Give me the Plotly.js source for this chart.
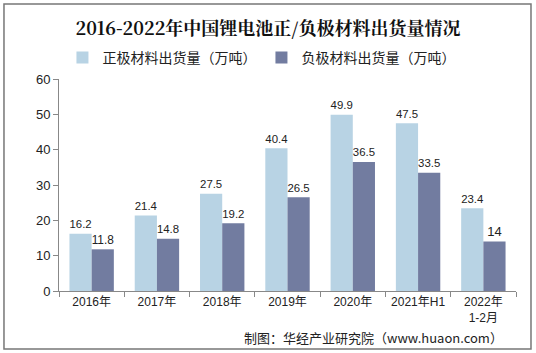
<!DOCTYPE html>
<html><head><meta charset="utf-8">
<script src="https://cdn.plot.ly/plotly-3.0.1.min.js"></script>
<style>html,body{margin:0;padding:0;background:#fff}#c{width:536px;height:353px}</style>
</head><body><div id="c"></div>
<script>
const categories = ["2016年","2017年","2018年","2019年","2020年","2021年H1","2022年<br>1-2月"];
const cathode = [16.2,21.4,27.5,40.4,49.9,47.5,23.4];
const anode = [11.8,14.8,19.2,26.5,36.5,33.5,14];
const seriesNames = ["正极材料出货量（万吨）","负极材料出货量（万吨）"];

const tf = {family:"Arial, 'Liberation Sans', 'Noto Sans CJK SC', sans-serif", size:13, color:"#222"};
const traces = [
  {type:"bar", x:categories, y:cathode, name:seriesNames[0], marker:{color:"#b8d3e4"},
   text:cathode.map(String), textposition:"outside", textfont:tf, cliponaxis:false},
  {type:"bar", x:categories, y:anode, name:seriesNames[1], marker:{color:"#727ca0"},
   text:anode.map(String), textposition:"outside", textfont:tf, cliponaxis:false}
];
const layout = {
  width:536, height:353,
  margin:{l:59, r:20, t:79, b:62},
  paper_bgcolor:"#fff", plot_bgcolor:"#fff",
  font:{family:"Arial, 'Liberation Sans', 'Noto Sans CJK SC', sans-serif", size:12, color:"#333"},
  title:{text:"2016-2022年中国锂电池正/负极材料出货量情况", x:0.5, xanchor:"center", y:0.92, yanchor:"middle",
    font:{family:"'Noto Serif CJK SC','DejaVu Serif','Noto Sans CJK SC', serif", size:18, color:"#111", weight:"bold"}},
  showlegend:true,
  legend:{orientation:"h", x:0.443, xanchor:"center", y:1.10, yanchor:"middle", traceorder:"normal",
    font:{family:"'Noto Sans CJK SC', sans-serif", size:14, color:"#222"}, itemwidth:30},
  bargap:0.32, bargroupgap:0,
  xaxis:{type:"category", showline:true, linecolor:"#888", linewidth:1, ticks:"outside", tickson:"boundaries",
    ticklen:5, tickcolor:"#888", showgrid:false, tickfont:{size:12, color:"#222", family:"Arial, 'Noto Sans CJK SC', sans-serif"}},
  yaxis:{range:[0,60], dtick:10, showline:true, linecolor:"#888", linewidth:1, ticks:"outside", ticklen:5,
    tickcolor:"#888", showgrid:false, zeroline:false, tickfont:{size:13, color:"#222"}},
  annotations:[{text:"制图：华经产业研究院（www.huaon.com）", xref:"paper", yref:"paper", x:0.975, y:-0.218,
    xanchor:"right", yanchor:"middle", showarrow:false, font:{family:"'Noto Sans CJK SC', sans-serif", size:13, color:"#222"}}],
  shapes:[{type:"rect", xref:"paper", yref:"paper", x0:-0.1204, x1:1.0328, y0:-0.2736, y1:1.3538,
    line:{color:"#777", width:1.5}, fillcolor:"rgba(0,0,0,0)"}]
};
Plotly.newPlot("c", traces, layout, {displayModeBar:false, staticPlot:true});
</script></body></html>
